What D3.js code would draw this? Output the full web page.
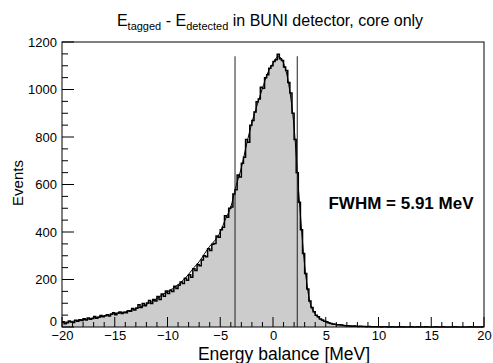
<!DOCTYPE html>
<html>
<head>
<meta charset="utf-8">
<script src="https://cdn.jsdelivr.net/npm/d3@7"></script>
<style>
  html, body { margin: 0; padding: 0; background: #fff; }
  svg { display: block; font-family: "Liberation Sans", Arial, sans-serif; }
</style>
</head>
<body>
<svg id="chart" width="493" height="363"></svg>
<script>
// histogram: 200 bins of 0.2 MeV from -20 to 20
const binStart = -20;
const binWidth = 0.2;
const counts = [
  22, 14, 18, 25, 21, 19, 28, 24, 31, 27, 35, 29, 38, 33, 36, 44, 37, 41, 48, 43,
  47, 52, 46, 55, 60, 52, 58, 63, 57, 61, 60, 68, 66, 78, 72,
  80, 94, 82, 99, 90, 101, 112, 99, 116, 110, 128, 116, 139, 130, 152,
  141, 155, 149, 172, 162, 176, 190, 183, 205, 197, 220, 210, 245, 238, 263,
  258, 282, 300, 296, 330, 322, 348, 352, 383, 378,
  410, 420, 468, 462, 500, 505, 560, 578, 640, 632, 690, 715, 790, 778, 850,
  870, 905, 948, 960, 1010, 1005, 1050, 1062, 1090, 1100,
  1118, 1125, 1148, 1130, 1122, 1095, 1080, 1030, 985, 900, 790, 650, 525, 410, 310,
  225, 160, 110, 82, 64, 50, 43, 34, 29, 24,
  22, 18, 15, 13, 12, 10, 9, 8, 6, 5, 5, 4, 3, 4, 3, 2, 3, 2, 2, 1, 2, 1, 1, 1, 1,
  1, 0, 1, 1, 0, 0, 1, 0, 0, 1, 0, 1, 0, 0, 0, 1, 0, 0, 1, 0,
  0, 0, 1, 0, 0, 0, 0, 1, 0, 0, 1, 0, 0, 0, 0, 0, 1, 0, 0, 0,
  0, 0, 0, 1, 0, 0, 0, 0, 0, 1
];

// fitted curve
const fitX = [-20, -19.5, -19, -18.5, -18, -17.5, -17, -16.5, -16, -15.5, -15, -14.5, -14, -13.5, -13,
  -12.5, -12, -11.5, -11, -10.5, -10, -9.5, -9, -8.5, -8, -7.5, -7, -6.5, -6, -5.5, -5,
  -4.5, -4, -3.5, -3, -2.5, -2, -1.5, -1, -0.5, 0, 0.5, 1, 1.5, 2, 2.5, 3, 3.5, 4, 4.5,
  5, 5.5, 6, 6.5, 7, 8, 9, 10];
const fitY = [20, 21, 24, 28, 31, 34, 38, 42, 47, 51, 56, 60, 64, 70, 77,
  85, 95, 106, 120, 135, 148, 162, 178, 198, 222, 250, 275, 308, 340, 365, 400,
  455, 505, 595, 670, 770, 860, 935, 1005, 1070, 1110, 1140, 1110, 1020, 840, 530, 260, 105, 55, 32,
  22, 14, 10, 8, 5, 3, 2, 1];

// FWHM markers
const cutLines = [-3.6, 2.3];
const cutTop = 1140;

const xTicks = [-20, -15, -10, -5, 0, 5, 10, 15, 20];
const yTicks = [0, 200, 400, 600, 800, 1000, 1200];
const fwhmText = "FWHM = 5.91 MeV";

const W = 493, H = 363;
const m = {top: 42, right: 9, bottom: 36, left: 62};
const svg = d3.select("#chart");

const x = d3.scaleLinear().domain([-20, 20]).range([m.left, W - m.right]);
const y = d3.scaleLinear().domain([0, 1200]).range([H - m.bottom, m.top]);

const bins = counts.map((c, i) => ({x: binStart + i * binWidth, y: c}));
bins.push({x: 20, y: counts[counts.length - 1]});

// filled histogram
svg.append("path")
    .datum(bins)
    .attr("fill", "#cccccc")
    .attr("d", d3.area().x(d => x(d.x)).y0(y(0)).y1(d => y(d.y)).curve(d3.curveStepAfter));

svg.append("path")
    .datum(bins)
    .attr("fill", "none")
    .attr("stroke", "#000")
    .attr("stroke-width", 1.5)
    .attr("d", d3.line().x(d => x(d.x)).y(d => y(d.y)).curve(d3.curveStepAfter));

// fit
svg.append("path")
    .datum(fitX.map((v, i) => [v, fitY[i]]))
    .attr("fill", "none")
    .attr("stroke", "#000")
    .attr("stroke-width", 1)
    .attr("d", d3.line().x(d => x(d[0])).y(d => y(d[1])).curve(d3.curveMonotoneX));

// vertical lines
svg.selectAll(".cut")
    .data(cutLines)
    .join("line")
    .attr("class", "cut")
    .attr("x1", d => x(d)).attr("x2", d => x(d))
    .attr("y1", y(0)).attr("y2", y(cutTop))
    .attr("stroke", "#222")
    .attr("stroke-width", 1);

// frame
svg.append("rect")
    .attr("x", m.left).attr("y", m.top)
    .attr("width", W - m.left - m.right).attr("height", H - m.top - m.bottom)
    .attr("fill", "none").attr("stroke", "#000").attr("stroke-width", 1);

// ticks pointing inwards, ROOT style
const xAxis = d3.axisBottom(x).tickValues(xTicks).tickSize(0).tickPadding(4);
const gx = svg.append("g").attr("transform", `translate(0,${y(0)})`).call(xAxis);
gx.select(".domain").remove();
gx.selectAll("text").attr("font-size", 13).attr("fill", "#000")
    .attr("font-family", "Liberation Sans, Arial, sans-serif");

svg.append("g").selectAll("line")
    .data(d3.range(-20, 21, 1))
    .join("line")
    .attr("x1", d => x(d)).attr("x2", d => x(d))
    .attr("y1", y(0)).attr("y2", d => y(0) - (d % 5 === 0 ? 10 : 5))
    .attr("stroke", "#000");

const yAxis = d3.axisLeft(y).tickValues(yTicks).tickSize(0).tickPadding(5).tickFormat(d3.format("d"));
const gy = svg.append("g").attr("transform", `translate(${x(-20)},0)`).call(yAxis);
gy.select(".domain").remove();
gy.selectAll("text").attr("font-size", 13).attr("fill", "#000")
    .attr("font-family", "Liberation Sans, Arial, sans-serif");
// lift the "0" a little so it clears the "-20" below it
gy.selectAll("text").filter(d => d === 0).attr("dy", "-0.08em");

svg.append("g").selectAll("line")
    .data(d3.range(0, 1201, 50))
    .join("line")
    .attr("x1", x(-20)).attr("x2", d => x(-20) + (d % 200 === 0 ? 12 : 6))
    .attr("y1", d => y(d)).attr("y2", d => y(d))
    .attr("stroke", "#000");

// axis titles
svg.append("text")
    .attr("x", 284).attr("y", 360)
    .attr("text-anchor", "middle")
    .attr("font-size", 17.5)
    .text("Energy balance [MeV]");

svg.append("text")
    .attr("transform", `translate(23,183) rotate(-90)`)
    .attr("text-anchor", "middle")
    .attr("font-size", 15)
    .text("Events");

// title with subscripts
const title = svg.append("text")
    .attr("x", 270).attr("y", 26)
    .attr("text-anchor", "middle")
    .attr("font-size", 16);
title.append("tspan").text("E");
title.append("tspan").attr("font-size", 11).attr("dy", 4).text("tagged");
title.append("tspan").attr("dy", -4).text(" - E");
title.append("tspan").attr("font-size", 11).attr("dy", 4).text("detected");
title.append("tspan").attr("dy", -4).text(" in BUNI detector, core only");

svg.append("text")
    .attr("x", 401).attr("y", 209)
    .attr("text-anchor", "middle")
    .attr("font-size", 17)
    .attr("font-weight", "bold")
    .text(fwhmText);
</script>
</body>
</html>
